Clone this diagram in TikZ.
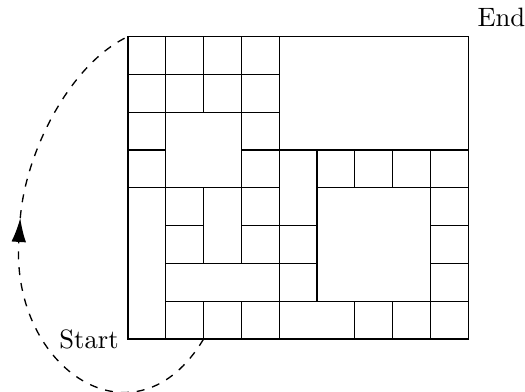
\documentclass[tikz,border=0pt]{standalone}
\usepackage{tikz}
\usetikzlibrary{arrows.meta}
\tikzset{
  tile/.style={
    draw=black,
    line width=0.5pt
  },
  tour/.style={
    dashed,
    line width=0.5pt
  }
}
\begin{document}
\begin{tikzpicture}[x=0.5cm,y=0.5cm]
  \useasboundingbox (-3.386,-1.402) rectangle (10.503,8.968);

  % Unit squares
  \foreach \x/\y in {0/7, 1/7, 2/7, 3/7, 0/6, 1/6, 2/6, 3/6, 0/5, 3/5, 0/4, 3/4,
                     5/4, 6/4, 7/4, 8/4, 4/2, 4/1, 8/3, 8/2, 8/1, 6/0, 7/0, 8/0,
                     1/3, 1/2, 3/3, 3/2, 1/0, 2/0, 3/0} {
    \draw[tile] (\x,\y) rectangle ++(1,1);
  }

  % Larger pieces
  \foreach \xa/\ya/\xb/\yb in {1/4/3/6, 4/5/9/8, 4/3/5/5, 5/1/8/4, 4/0/6/1,
                               0/0/1/4, 2/2/3/4, 1/1/4/2} {
    \draw[tile] (\xa,\ya) rectangle (\xb,\yb);
  }

  % Tour ends
  \coordinate (start) at (2,0);
  \coordinate (finish) at (0,8);
  \coordinate (turn) at (-2.85,3.2);
  \node[left] (startlabel) at (0,0) {Start};
  \node[above right] (endlabel) at (9,8) {End};

  % Dashed return path
  \draw[tour, -{Latex[length=9pt,width=5.5pt]}] (start) .. controls (0.2,-3) and (-3.1,-0.8) .. (turn);
  \draw[tour] (turn) .. controls (-2.7,5) and (-1.5,7.3) .. (finish);
\end{tikzpicture}
\end{document}
